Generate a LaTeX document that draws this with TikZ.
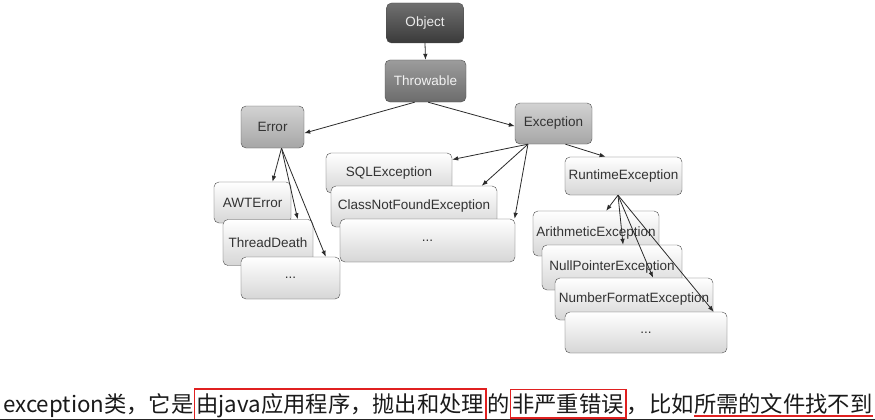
\documentclass[tikz,border=0pt]{standalone}
\usepackage{fontspec}
\setmainfont{Liberation Sans}
\newfontfamily\cjk{Noto Sans CJK SC}
\usepackage{tikz}
\usetikzlibrary{arrows.meta,positioning}
\usepackage{xcolor}
\definecolor{ObjTop}{HTML}{707070}
\definecolor{ObjBottom}{HTML}{3A3A3A}
\definecolor{ThrowTop}{HTML}{9C9C9C}
\definecolor{ThrowBottom}{HTML}{6C6C6C}
\definecolor{BaseTop}{HTML}{D2D2D2}
\definecolor{BaseBottom}{HTML}{A6A6A6}
\definecolor{LeafBottom}{HTML}{D6D6D6}
\definecolor{EdgeGray}{HTML}{4D4D4D}
\definecolor{LineGray}{HTML}{2B2B2B}
\definecolor{TextDark}{HTML}{333333}
\definecolor{MarkRed}{HTML}{E02020}
\definecolor{CapText}{HTML}{1A1A1A}

\begin{document}
\begin{tikzpicture}[x=1pt, y=-1pt,
    cls/.style={draw=EdgeGray, rounded corners=5pt, font=\fontsize{13.5}{15}\selectfont, inner sep=0pt, text=TextDark},
    rootcls/.style={cls, top color=ObjTop, bottom color=ObjBottom, text=white!92!black},
    midcls/.style={cls, top color=ThrowTop, bottom color=ThrowBottom, text=white!95!black},
    basecls/.style={cls, top color=BaseTop, bottom color=BaseBottom},
    leafcls/.style={cls, top color=white, bottom color=LeafBottom},
    arr/.style={-{Latex[length=6pt,width=4.5pt]}, draw=LineGray, line width=0.8pt},
    subline/.style={font=\cjk\fontsize{22.3}{26}\selectfont, inner sep=0pt, text=CapText},
    hilite/.style={draw=MarkRed, line width=1.5pt, inner xsep=2pt, inner ysep=4pt}
  ]
    \useasboundingbox[fill=white] (0,0) rectangle (875,420);

    \node[rootcls, minimum width=77pt, minimum height=40pt] (Object) at (425,23) {Object};
    \node[midcls, minimum width=81pt, minimum height=42pt] (Throwable) at (425.5,81) {Throwable};
    \node[basecls, minimum width=63pt, minimum height=42pt] (Error) at (272.5,127) {Error};
    \node[basecls, minimum width=77pt, minimum height=41pt] (Exception) at (553.5,123.5) {Exception};

    \node[leafcls, minimum width=77pt, minimum height=41pt] (AWTError) at (252.5,202.5) {AWTError};
    \node[leafcls, minimum width=90pt, minimum height=46pt] (ThreadDeath) at (268,242.5) {ThreadDeath};
    \node[leafcls, minimum width=99pt, minimum height=42pt] (ErrMore) at (290.5,278) {...};

    \node[leafcls, minimum width=126pt, minimum height=40pt] (SQLExc) at (389,173) {SQLException};
    \node[leafcls, minimum width=166pt, minimum height=41pt] (ClassNotFound) at (414,206.5) {ClassNotFoundException};
    \node[leafcls, minimum width=175pt, minimum height=43pt] (ExcMore) at (427.5,240.5) {...};

    \node[leafcls, minimum width=117pt, minimum height=38pt] (Runtime) at (623.5,176) {RuntimeException};
    \node[leafcls, minimum width=126pt, minimum height=45pt] (Arith) at (596,233.5) {ArithmeticException};
    \node[leafcls, minimum width=140pt, minimum height=45pt] (NullPtr) at (612,267.5) {NullPointerException};
    \node[leafcls, minimum width=158pt, minimum height=42pt] (NumFormat) at (634,299) {NumberFormatException};
    \node[leafcls, minimum width=162pt, minimum height=41pt] (RtMore) at (646,332.5) {...};

    \draw[arr] (Object.south) -- (Throwable.north);
    \draw[arr] (Throwable.243) -- (Error.349);
    \draw[arr] (Throwable.277) -- (Exception.184);
    \draw[arr] (Error.293) -- (AWTError.46);
    \draw[arr] (Error.293) -- (ThreadDeath.38);
    \draw[arr] (Error.293) -- (ErrMore.31);
    \draw[arr] (Exception.219) -- (SQLExc.12);
    \draw[arr] (Exception.219) -- (ClassNotFound.17);
    \draw[arr] (Exception.219) -- (ExcMore.14);
    \draw[arr] (Exception.300) -- (Runtime.133);
    \draw[arr] (Runtime.254) -- (Arith.66);
    \draw[arr] (Runtime.254) -- (NullPtr.64);
    \draw[arr] (Runtime.254) -- (NumFormat.48);
    \draw[arr] (Runtime.254) -- (RtMore.17);

    \node[subline, anchor=base west] (sub1) at (3,412) {exception类，它是};
    \node[subline, hilite, base right=0pt of sub1] (sub2) {由java应用程序，抛出和处理};
    \node[subline, base right=0pt of sub2] (sub3) {的};
    \node[subline, hilite, base right=0pt of sub3] (sub4) {非严重错误};
    \node[subline, base right=0pt of sub4] (sub5) {，比如};
    \node[subline, base right=0pt of sub5] (sub6) {所需的文件找不到};
    \draw[MarkRed, line width=1.5pt] ([yshift=-4pt]sub6.base west) -- ([yshift=-4pt]sub6.base east);
    \draw[black!85, line width=1pt] (0,419.5) -- (875,419.5);
  \end{tikzpicture}
\end{document}
